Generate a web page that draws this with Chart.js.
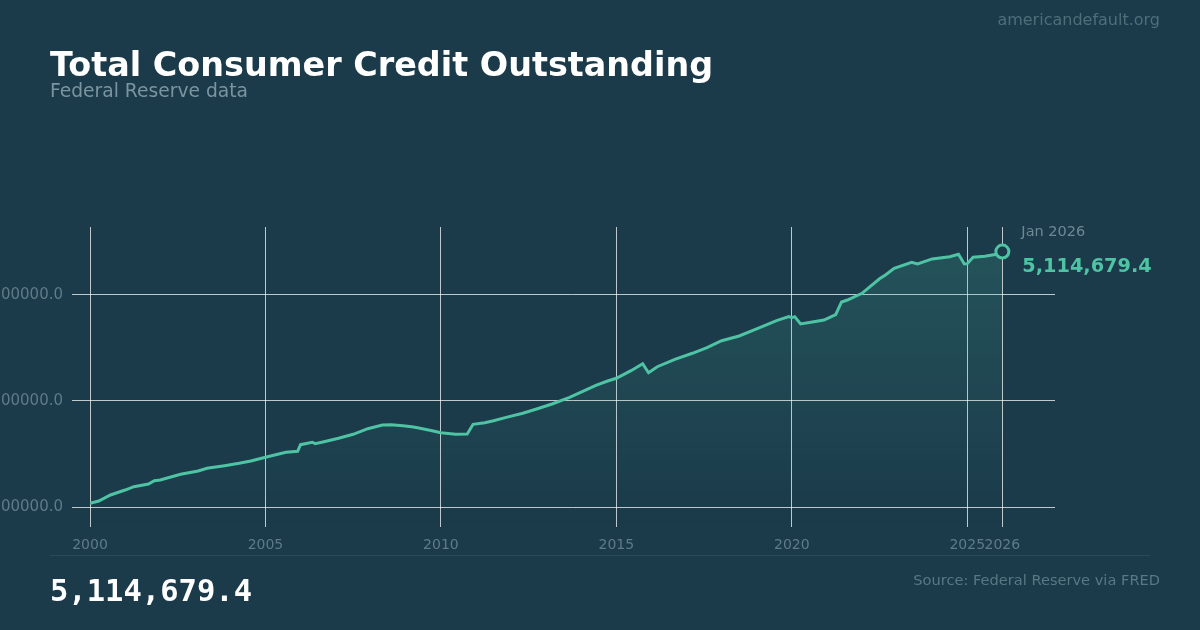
<!DOCTYPE html>
<html>
<head>
<meta charset="utf-8">
<script src="https://cdn.jsdelivr.net/npm/chart.js@4"></script>
<style>
  html, body { margin:0; padding:0; background:#1b3a4a; }
  body { width:1200px; height:630px; position:relative; overflow:hidden; font-family:"DejaVu Sans", sans-serif; }
  #c { position:absolute; left:0; top:0; }
  .t { position:absolute; white-space:nowrap; line-height:1; }
  #title { left:50px; top:48px; font-size:33.4px; font-weight:bold; color:#ffffff; }
  #sub { left:50px; top:82px; font-size:18.7px; color:#7a959f; }
  #wm { right:40px; top:12px; font-size:16px; color:#4e6e7a; }
  #sep { position:absolute; left:50px; width:1100px; top:555px; height:1px; background:#2a4a58; }
  #big { left:50px; top:576px; font-family:"DejaVu Sans Mono", monospace; font-weight:bold; font-size:30.5px; color:#ffffff; }
  #src { right:40px; top:573px; font-size:14.6px; color:#587883; }
</style>
</head>
<body>
<canvas id="c" width="1200" height="630"></canvas>
<div class="t" id="wm">americandefault.org</div>
<div class="t" id="title">Total Consumer Credit Outstanding</div>
<div class="t" id="sub">Federal Reserve data</div>
<div id="sep"></div>
<div class="t" id="big">5,114,679.4</div>
<div class="t" id="src">Source: Federal Reserve via FRED</div>
<script>
// Observation dates (YYYY-MM) and total consumer credit (millions of dollars)
const dates = [
  "2000-01","2000-04","2000-08","2001-01","2001-04","2001-09","2001-11","2002-01","2002-08","2003-02",
  "2003-05","2003-11","2004-04","2004-08","2005-01","2005-08","2005-12","2006-01","2006-05","2006-06",
  "2006-09","2007-02","2007-07","2007-12","2008-05","2008-08","2008-12","2009-03","2009-05","2009-10",
  "2010-01","2010-06","2010-10","2010-12","2011-04","2011-07","2011-11","2012-05","2012-10","2013-03",
  "2013-09","2014-06","2014-10","2015-01","2015-06","2015-10","2015-12","2016-03","2016-09","2017-03",
  "2017-08","2018-01","2018-07","2019-02","2019-08","2019-12","2020-01","2020-02","2020-04","2020-08",
  "2020-12","2021-04","2021-06","2021-08","2022-01","2022-07","2022-09","2022-12","2023-06","2023-08",
  "2024-01","2024-07","2024-10","2024-12","2025-01","2025-03","2025-07","2025-11","2026-01"
];
const values = [
  1552000,1585000,1670000,1740000,1787000,1825000,1872000,1882000,1963000,2009000,
  2048000,2085000,2118000,2151000,2203000,2274000,2288000,2382000,2416000,2396000,
  2424000,2472000,2529000,2608000,2660000,2665000,2650000,2636000,2622000,2580000,
  2552000,2529000,2533000,2670000,2693000,2721000,2764000,2826000,2891000,2958000,
  3050000,3222000,3283000,3321000,3429000,3528000,3400000,3485000,3590000,3675000,
  3754000,3853000,3920000,4037000,4142000,4193000,4179000,4193000,4090000,4118000,
  4146000,4221000,4401000,4429000,4524000,4730000,4783000,4878000,4963000,4939000,
  5010000,5042000,5076000,4939000,4943000,5034000,5048000,5076000,5114679.4
];
const xTickYears = [2000, 2005, 2010, 2015, 2020, 2025, 2026];
const yTickValues = [1500000, 3000000, 4500000];
const lastLabel = "Jan 2026";
const lastValueText = "5,114,679.4";

const BG = "#1b3a4a";
const TEAL = "#4fc4a4";
const GRID = "rgba(255,255,255,0.72)";
const TICK = "#5d7c87";

function toYear(s) { const [y, m] = s.split("-").map(Number); return y + (m - 1) / 12; }
const points = dates.map((d, i) => ({ x: toYear(d), y: values[i] }));
const n = points.length;

const endLabel = {
  id: "endLabel",
  afterDatasetsDraw(chart) {
    const meta = chart.getDatasetMeta(0);
    const p = meta.data[n - 1];
    const ctx = chart.ctx;
    ctx.save();
    ctx.textAlign = "left";
    ctx.textBaseline = "middle";
    ctx.fillStyle = "#6d8a94";
    ctx.font = "14.5px 'DejaVu Sans'";
    ctx.fillText(lastLabel, p.x + 19, p.y - 19);
    ctx.fillStyle = TEAL;
    ctx.font = "bold 19.3px 'DejaVu Sans'";
    ctx.fillText(lastValueText, p.x + 20, p.y + 15);
    ctx.restore();
  }
};

new Chart(document.getElementById("c"), {
  type: "line",
  data: {
    datasets: [{
      data: points,
      borderColor: TEAL,
      borderWidth: 3,
      tension: 0,
      fill: "start",
      backgroundColor(ctx) {
        const a = ctx.chart.chartArea;
        if (!a) return "rgba(79,196,164,0.1)";
        const g = ctx.chart.ctx.createLinearGradient(0, a.top, 0, a.bottom);
        g.addColorStop(0, "rgba(79,196,164,0.20)");
        g.addColorStop(1, "rgba(79,196,164,0.0)");
        return g;
      },
      pointRadius: points.map((_, i) => i === n - 1 ? 6.5 : 0),
      pointHoverRadius: 0,
      pointBorderWidth: 3,
      pointBorderColor: TEAL,
      pointBackgroundColor: BG
    }]
  },
  options: {
    responsive: false,
    animation: false,
    events: [],
    layout: { padding: { left: 0, right: 145, top: 227, bottom: 0 } },
    plugins: { legend: { display: false }, tooltip: { enabled: false } },
    scales: {
      x: {
        type: "linear",
        min: 2000,
        max: 2027.5,
        afterBuildTicks(s) { s.ticks = xTickYears.map(v => ({ value: v })); },
        afterFit(s) { s.height = 103; },
        grid: { color: GRID, lineWidth: 1, drawTicks: false },
        border: { display: false },
        ticks: {
          autoSkip: false, maxRotation: 0, padding: 10,
          color: TICK, font: { family: "DejaVu Sans", size: 14 },
          callback: v => String(v)
        }
      },
      y: {
        min: 1217000,
        max: 5462000,
        afterBuildTicks(s) { s.ticks = yTickValues.map(v => ({ value: v })); },
        afterFit(s) { s.width = 90; },
        grid: { color: GRID, lineWidth: 1, drawTicks: true, tickLength: 18 },
        border: { display: false },
        ticks: {
          padding: 9, color: TICK, font: { family: "DejaVu Sans", size: 15 },
          callback: v => Number(v).toFixed(1)
        }
      }
    }
  },
  plugins: [endLabel]
});
</script>
</body>
</html>
